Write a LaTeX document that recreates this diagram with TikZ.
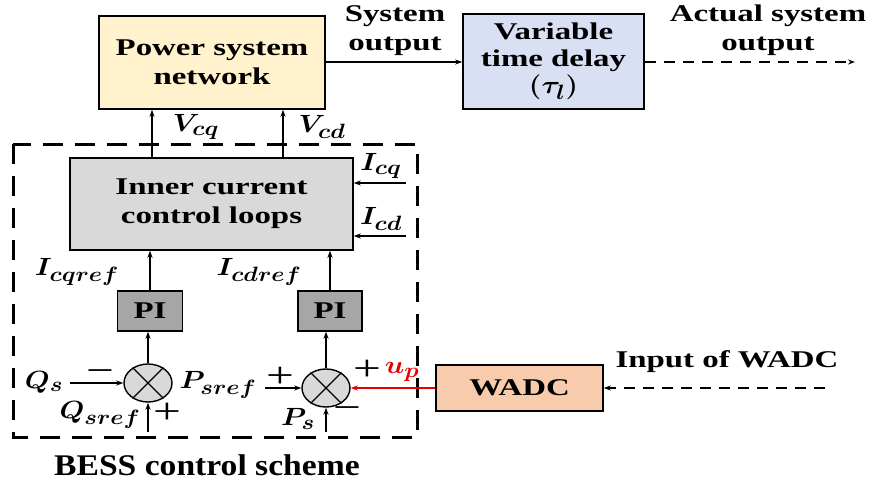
\documentclass[tikz,border=0pt]{standalone}
\usepackage{fontspec}
\setmainfont{Liberation Serif}[FakeStretch=1.37]
\newfontfamily\bessfont{Liberation Serif}[FakeStretch=1.12]
\usepackage{graphicx}
\usetikzlibrary{shapes.geometric,arrows.meta}
\DeclareMathSizes{26}{26}{21}{16}
\newcommand\mv[1]{\scalebox{1.15}[1]{\fontsize{26}{30}\selectfont\boldmath$#1$}}
\definecolor{psnfill}{HTML}{FFF2CC}
\definecolor{vtdfill}{HTML}{DAE0F4}
\definecolor{iclfill}{HTML}{D9D9D9}
\definecolor{pifill}{HTML}{A6A6A6}
\definecolor{wadcfill}{HTML}{F8CBAD}
\definecolor{upred}{HTML}{E60000}
\tikzset{
  blk/.style={draw, line width=1.5pt, inner sep=0pt, align=center,
    font=\fontsize{24}{29}\selectfont\bfseries},
  sumj/.style={draw, line width=1.4pt, ellipse, fill=iclfill, inner sep=0pt,
    minimum width=48, minimum height=38},
  sig/.style={line width=1.4pt, -{Stealth[length=7pt,width=5pt]}},
  dsig/.style={sig, dash pattern=on 11pt off 8pt},
  lbl/.style={inner sep=0pt, align=center, font=\fontsize{24}{29}\selectfont\bfseries},
  sgn/.style={inner sep=0pt, font=\fontsize{36}{36}\selectfont},
}
\begin{document}
\begin{tikzpicture}[x=1pt,y=-1pt]
\useasboundingbox (0,0) rectangle (870,482);
% blocks
\node[blk, fill=psnfill, minimum width=226, minimum height=93] (psn) at (212,62.5) {Power system\\network};
\node[blk, fill=vtdfill, minimum width=181, minimum height=95, font=\fontsize{24}{27}\selectfont\bfseries] (vtd) at (553.5,61.5) {Variable\\time delay\\\mv{(\tau_l)}};
\node[blk, fill=iclfill, minimum width=283, minimum height=92] (icl) at (211.5,204) {Inner current\\control loops};
\node[blk, fill=pifill, minimum width=65, minimum height=40] (pi1) at (150,311) {PI};
\node[blk, fill=pifill, minimum width=64, minimum height=40] (pi2) at (330,311) {PI};
\node[blk, fill=wadcfill, minimum width=167, minimum height=46] (wadc) at (519.5,388) {WADC};
\node[sumj] (s1) at (148,383) {};
\node[sumj] (s2) at (326,388) {};
\foreach \s in {s1,s2}{
  \draw[line width=1.3pt] (\s.45) -- (\s.225);
  \draw[line width=1.3pt] (\s.135) -- (\s.315);
}
% dashed BESS box
\draw[line width=3pt, dash pattern=on 20pt off 12pt] (13,144) rectangle (417,437);
% coordinates
\coordinate (out) at (855,62);
\coordinate (vq) at (152,158);
\coordinate (vd) at (283,158);
\coordinate (icqin) at (406,183);
\coordinate (icdin) at (406,236);
\coordinate (qsin) at (70,383);
\coordinate (qrefin) at (148,432);
\coordinate (prefin) at (265,388);
\coordinate (psin) at (326,432);
\coordinate (wadcin) at (825,388);
% connectors
\draw[sig] (psn.east |- out) -- (vtd.west |- out);
\draw[dsig] (vtd.east |- out) -- (out);
\draw[sig] (vq) -- (vq |- psn.south);
\draw[sig] (vd) -- (vd |- psn.south);
\draw[sig] (icqin) -- (icqin -| icl.east);
\draw[sig] (icdin) -- (icdin -| icl.east);
\draw[sig] (pi1.north) -- (pi1.north |- icl.south);
\draw[sig] (pi2.north) -- (pi2.north |- icl.south);
\draw[sig] (s1.north) -- (s1.north |- pi1.south);
\draw[sig] (s2.north) -- (s2.north |- pi2.south);
\draw[sig] (qsin) -- (s1.west);
\draw[sig] (qrefin) -- (s1.south);
\draw[sig] (prefin) -- (s2.west);
\draw[sig] (psin) -- (s2.south);
\draw[sig, upred] (wadc.west) -- (s2.east);
\draw[dsig] (wadcin) -- (wadc.east);
% labels
\node[lbl] (lso) at (395,31) {System\\output};
\node[lbl] (laso) at (768,30) {Actual system\\output};
\node[lbl] (lvcq) at (196,127) {\mv{V_{cq}}};
\node[lbl] (lvcd) at (322,127) {\mv{V_{cd}}};
\node[lbl] (licq) at (381,166) {\mv{I_{cq}}};
\node[lbl] (licd) at (381,219) {\mv{I_{cd}}};
\node[lbl] (licqr) at (77,272) {\mv{I_{cqref}}};
\node[lbl] (licdr) at (259,272) {\mv{I_{cdref}}};
\node[lbl] (lqs) at (44,382) {\mv{Q_s}};
\node[lbl] (lqsr) at (100,415) {\mv{Q_{sref}}};
\node[lbl] (lpsr) at (218,385) {\mv{P_{sref}}};
\node[lbl] (lps) at (298,419) {\mv{P_s}};
\node[lbl, text=upred] (lup) at (402,372) {\mv{u_p}};
\node[sgn] (m1) at (100,376) {−};
\node[sgn] (p1) at (167,413) {+};
\node[sgn] (p2) at (280,377) {+};
\node[sgn] (m2) at (347,413) {−};
\node[sgn] (p3) at (367,370) {+};
\node[lbl] (lin) at (727,362) {Input of WADC};
\node[lbl, font=\fontsize{30}{30}\bessfont\bfseries] (lbess) at (207,465) {BESS control scheme};
\end{tikzpicture}
\end{document}
